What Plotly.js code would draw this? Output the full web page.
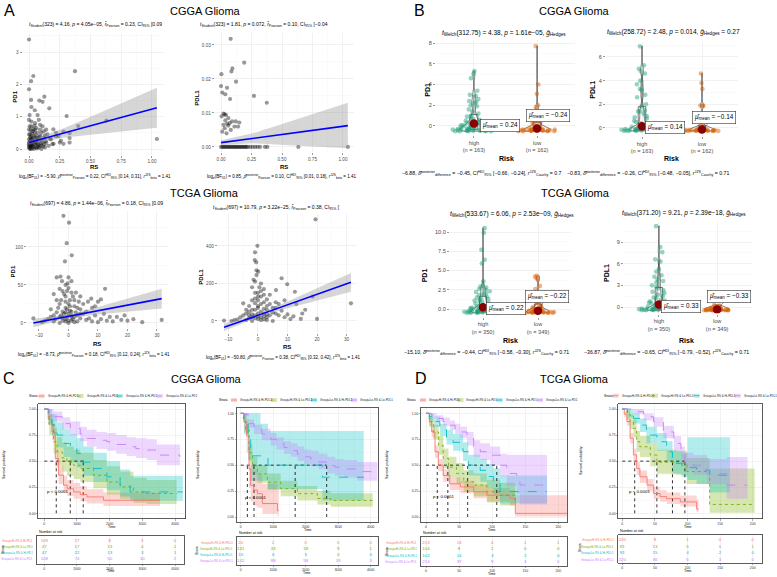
<!DOCTYPE html>
<html>
<head>
<meta charset="utf-8">
<script src="https://cdn.plot.ly/plotly-3.0.1.min.js"></script>
<style>
html,body{margin:0;padding:0;background:#ffffff;overflow:hidden;}
#chart{width:777px;height:577px;}
</style>
</head>
<body>
<div id="chart"></div>
<script>
// ======================= DATA =======================
// ---- Panel A: RS vs expression, points [RS, value] ----
const A1_points = [[0.00,3.39],[0.035,2.26],[0.017,2.10],[0.00,1.85],[0.374,2.41],[0.017,1.52],[0.125,1.62],[0.084,1.50],[0.11,1.46],[0.165,1.26],[0.02,1.30],[0.047,1.20],[0.306,1.02],[0.07,1.05],[0.005,1.05],[0.40,0.71],[1.04,0.31],[0.09,0.75],[0.198,0.61],[0.28,0.54],[0.33,0.49],[0.22,0.39],[0.33,0.34],[0.33,0.20],[0.28,0.16],[0.26,0.26],[0.17,0.32],[0.20,0.16],[0.63,0.88],
 [0,0.05],[0.01,0.10],[0.02,0.00],[0.03,0.20],[0.00,0.30],[0.05,0.15],[0.04,0.40],[0.06,0.05],[0.08,0.25],[0.10,0.10],[0.12,0.35],[0.00,0.60],[0.02,0.70],[0.07,0.50],[0.09,0.60],[0.11,0.70],[0.14,0.20],[0.15,0.45],[0.13,0.05],[0.03,0.55],[0.01,0.45],[0.05,0.80],[0.08,0.90],[0.00,0.90],[0.06,0.35],[0.04,0.00],[0.02,0.30],[0.07,0.15],[0.09,0.40],[0.16,0.10],[0.18,0.30],[0.12,0.55],[0.00,0.15],[0.01,0.25],[0.03,0.05],[0.05,0.60],[0.10,0.00],[0.14,0.60],[0.19,0.15],[0.22,0.50],[0.25,0.20],[0.24,0.40],[0.01,0.0],[0.02,0.12],[0.04,0.22],[0.06,0.18],[0.03,0.35],[0.0,0.45],[0.05,0.3],[0.11,0.2],[0.08,0.05],[0.13,0.42],[0.06,0.65],[0.02,0.85],[0.1,0.5],
 [0.005,0.02],[0.015,0.08],[0.025,0.14],[0.035,0.1],[0.045,0.06],[0.055,0.22],[0.065,0.28],[0.075,0.33],[0.085,0.12],[0.095,0.18],[0.015,0.38],[0.025,0.48],[0.035,0.62],[0.045,0.52],[0.055,0.42],[0.065,0.02],[0.075,0.08],[0.085,0.38],[0.105,0.28],[0.115,0.08],[0.125,0.15],[0.135,0.25],[0.005,0.7],[0.015,0.58],[0.045,0.72],[0.0,0.2],[0.0,0.1],[0.01,0.35],[0.02,0.2],[0.03,0.28]];
const A2_points = [[0.079,0.0318],[0.19,0.0248],[0.093,0.0231],[0.085,0.0222],[0.003,0.0214],[0.123,0.0192],[0.0,0.0179],[0.049,0.0174],[0.01,0.016],[0.035,0.0155],[0.074,0.0141],[0.27,0.015],[0.375,0.013],[0.02,0.0098],[0.03,0.0096],[0.04,0.0094],[0.005,0.009],[0.06,0.0085],[0.09,0.0075],[0.12,0.0075],[0.07,0.007],[0.05,0.0068],[0.02,0.0065],[0.15,0.0072],[0.14,0.006],[0.03,0.0055],[0.08,0.005],[0.01,0.0045],[0.045,0.004],[0.11,0.006],[0.035,0.0078],[0.06,0.0063],
 [0,0],[0.01,0],[0.02,0],[0.03,0],[0.04,0],[0.05,0],[0.06,0],[0.07,0],[0.08,0],[0.09,0],[0.1,0],[0.11,0],[0.12,0],[0.13,0],[0.14,0],[0.15,0],[0.16,0],[0.17,0],[0.18,0],[0.19,0],[0.2,0],[0.21,0],[0.22,0],[0.24,0],[0.26,0],[0.28,0],[0.3,0],[0.32,0],[0.36,0],[0.38,0],[0.634,0],[1.04,0]];
const A3_points = [[-1.7,141],[0.2,132],[-0.6,105],[-1.2,81],[1.1,89],[-4,60],[-2.7,61],[-0.3,52],[-2.2,55],[12.4,45],[-11.9,6],[31.6,4],[16.4,8],[17.9,4],[7.7,32],[6.6,28],[10,28],[3,20],[5,12],[-5,10],[-3,25],[-1,35],[1,40],[2,30],[-2,42],[0,46],[-4,30],[-6,18],[-7,5],[-5,2],[-3,0],[-1,5],[0,0],[1,3],[2,8],[3,2],[4,6],[6,4],[8,2],[9,10],[11,5],[13,3],[14,8],[-2,15],[-1,20],[0,12],[1,15],[2,22],[-3,8],[-4,14],[-2,3],[0,25],[-1,28],[1,8],[3,10],[4,18],[5,25],[6,15],[7,6],[8,20],[-6,8],[-8,3],[-9,1],[10,1],[12,12],[15,2],[20,3],[22,5],[-5,38],[0,60],[1,55],[9,22],[11,31],[4,35],[-1,50],[19,10],[25,1],
 [-2.5,10],[-1.5,12],[-0.5,18],[0.5,22],[1.5,5],[2.5,14],[-3.5,20],[-0.5,8],[0.5,30],[1.5,35],[-1.5,38],[-2.5,30],[3.5,28],[-0.5,42],[0.5,16],[-1,2],[2,1],[-2,7],[4,12],[-4.5,5],[0,3],[1,10],[-1,14],[2.5,40],[-3,45]];
const A4_points = [[19.5,542],[-0.2,401],[-1,366],[-1.1,325],[-0.6,313],[0.1,263],[-0.5,245],[8,228],[9.9,196],[12.5,156],[6.1,165],[18.5,130],[31.5,94],[14.5,11],[20,11],[-11.5,2],[-5,94],[-2,180],[0,150],[1,130],[-1,120],[2,100],[-3,80],[3,60],[4,90],[5,45],[6,70],[7,30],[8,55],[9,20],[10,35],[11,10],[-4,40],[-6,20],[-7,8],[-8,5],[-2,60],[-1,30],[0,10],[1,50],[2,25],[3,5],[-3,15],[0,80],[1,200],[-1,210],[2,170],[4,140],[0,40],[-2,0],[5,0],[12,25],[15,40],[-9,0],[16,60],[13,90],[9,110],[3,115],[6,100],[-5,30],[-1,95],[0,110],[2,65],[-3,50],[1,20],[-2,35],[-4,5],[3,35],
 [-1,60],[0,70],[1,90],[2,40],[-2,110],[0,130],[1,160],[-1,150],[3,80],[4,30],[5,70],[-3,30],[-1,15],[0,25],[2,8],[1,5],[-2,20],[3,20],[6,40],[-4,60],[2,140],[-0.5,270],[0.5,180],[-1.5,220],[7,90]];
// regression lines and 95% bands
const A1_fit_x = [0, 0.26, 0.52, 0.78, 1.04];
const A1_fit_y = [0.2, 0.47, 0.74, 1.01, 1.28];
const A1_ci_lo = [0.13, 0.34, 0.45, 0.55, 0.66];
const A1_ci_hi = [0.27, 0.60, 1.03, 1.47, 1.90];
const A2_fit_x = [0, 0.26, 0.52, 0.78, 1.04];
const A2_fit_y = [0.00127, 0.00252, 0.00377, 0.00502, 0.00627];
const A2_ci_lo = [0.0006, 0.0011, 0.0006, 0.0001, -0.0004];
const A2_ci_hi = [0.0020, 0.0040, 0.0070, 0.0099, 0.0130];
const A3_fit_x = [-11.9, 0, 10, 20, 31.6];
const A3_fit_y = [0, 8.76, 16.1, 23.5, 32];
const A3_ci_lo = [-5.5, 6.3, 11.3, 14.9, 19];
const A3_ci_hi = [5.5, 11.2, 20.9, 32.1, 45];
const A4_fit_x = [-11.5, 0, 10, 20, 31.5];
const A4_fit_y = [-34, 30.2, 86, 141.8, 206];
const A4_ci_lo = [-54, 22.2, 68.2, 109, 156];
const A4_ci_hi = [-14, 38.2, 103.8, 174.6, 256];

// ---- Panel B: expression by risk group ----
const riskGroups = ['high', 'low'];
const B1_high = [5.3,5.0,4.6,3.4,3.0,2.9,2.6,2.4,2.3,2.2,2.0,1.9,1.6,1.4,1.2,1.0,0.9,0.8,0.7,0.6,0.5,0.45,0.4,0.35,0.3,0.25,0.2,0.15,0.1,0.05,0.0,-0.05,-0.1,-0.15,-0.2,-0.25,-0.3,-0.3,-0.35,-0.35,-0.4,-0.4,-0.4,-0.45,-0.45,-0.45,-0.5,-0.5,-0.5,-0.5,-0.3,-0.2,-0.1,0.0,0.1,-0.4,-0.45,-0.5,-0.35,-0.25];
const B1_low = [7.7,4.0,3.1,2.0,1.8,1.5,1.2,0.8,0.6,0.4,0.3,0.2,0.1,0.0,-0.1,-0.15,-0.2,-0.25,-0.3,-0.3,-0.35,-0.35,-0.4,-0.4,-0.4,-0.45,-0.45,-0.45,-0.5,-0.5,-0.5,-0.5,-0.45,-0.4,-0.35,-0.3,-0.48,-0.42,-0.38,-0.33];
const B2_high = [6.9,5.3,5.0,4.8,4.6,4.0,3.7,3.3,3.2,2.8,2.6,2.0,1.8,1.5,1.4,1.4,1.2,1.0,0.9,0.8,0.6,0.5,0.4,0.3,0.2,0.15,0.1,0.05,0.0,-0.05,-0.1,-0.1,-0.15,-0.15,-0.2,-0.2,-0.2,-0.25,-0.25,-0.25,-0.25,-0.22,-0.18,-0.12,-0.08,0.02,-0.24,-0.23,-0.21,-0.19];
const B2_low = [4.6,3.8,3.3,1.9,1.9,1.85,1.0,0.6,0.3,0.1,0.0,-0.05,-0.1,-0.1,-0.15,-0.15,-0.2,-0.2,-0.2,-0.22,-0.22,-0.24,-0.24,-0.25,-0.25,-0.25,-0.25,-0.23,-0.21,-0.18,-0.12,-0.08,-0.24,-0.22,-0.2,-0.17];
const B3_high = [10.5,9.9,7.7,6.4,5.9,3.6,3.0,2.9,2.8,2.6,2.5,2.3,2.2,2.0,1.9,1.8,1.6,1.5,1.4,1.3,1.2,1.1,1.0,0.9,0.8,0.7,0.6,0.5,0.4,0.35,0.3,0.25,0.2,0.15,0.1,0.05,0.0,-0.05,-0.1,-0.15,-0.2,-0.25,-0.3,-0.3,-0.35,-0.35,-0.4,-0.4,-0.4,-0.45,-0.45,-0.45,-0.5,-0.5,-0.5,-0.5,-0.2,-0.1,0.0,0.1,-0.3,-0.4,-0.45,-0.48,-0.35];
const B3_low = [4.3,4.2,4.0,3.8,3.0,2.6,1.8,1.5,1.2,1.0,0.8,0.6,0.4,0.3,0.2,0.1,0.0,-0.05,-0.1,-0.15,-0.2,-0.25,-0.3,-0.3,-0.35,-0.35,-0.4,-0.4,-0.4,-0.45,-0.45,-0.45,-0.5,-0.5,-0.5,-0.5,-0.48,-0.42,-0.38,-0.33,-0.28,-0.22,-0.45,-0.4,-0.47];
const B4_high = [11.2,8.3,7.6,6.6,6.3,5.3,4.9,4.4,4.2,3.8,3.6,3.4,3.0,2.8,2.6,2.3,2.1,1.9,1.7,1.5,1.3,1.2,1.0,0.9,0.8,0.7,0.6,0.5,0.4,0.3,0.2,0.1,0.0,-0.1,-0.15,-0.2,-0.25,-0.3,-0.3,-0.35,-0.35,-0.4,-0.4,-0.4,-0.42,-0.42,-0.45,-0.45,-0.38,-0.32,-0.27,-0.2,-0.1,0.05,-0.44,-0.43];
const B4_low = [0.3,0.2,0.1,0.0,-0.05,-0.1,-0.15,-0.2,-0.2,-0.25,-0.25,-0.3,-0.3,-0.3,-0.35,-0.35,-0.35,-0.4,-0.4,-0.4,-0.4,-0.42,-0.42,-0.42,-0.44,-0.44,-0.44,-0.45,-0.45,-0.45,-0.38,-0.33,-0.28,-0.22,-0.18,-0.12,-0.43,-0.41,-0.39,-0.37];
const B1_means = [0.24, -0.24];
const B2_means = [0.14, -0.14];
const B3_means = [0.22, -0.22];
const B4_means = [0.33, -0.33];
const CGGA_n = [163, 162];
const TCGA_n = [350, 349];

// ---- Panels C/D: Kaplan-Meier (groups: HiHi, HiLo, LoHi, LoLo) ----
const PD1_groups = ['Group=Hi-RS & Hi-PD1', 'Group=Hi-RS & Lo-PD1', 'Group=Lo-RS & Hi-PD1', 'Group=Lo-RS & Lo-PD1'];
const PDL1_groups = ['Group=Hi-RS & Hi-PDL1', 'Group=Hi-RS & Lo-PDL1', 'Group=Lo-RS & Hi-PDL1', 'Group=Lo-RS & Lo-PDL1'];
const CGGA_times = [0, 1000, 2000, 3000, 4000];
const TCGA_times = [0, 50, 100, 150, 200];

const C1_time = [
 [0,120,235,336,437,589,700,895,1100,1303,1810,3540],
 [0,150,285,387,550,692,900,1100,1505,1914,2320,2727,3135,4050],
 [0,120,235,387,589,800,998,1200,1505,1914,2320,2626,4240],
 [0,150,285,550,794,1100,1303,1600,1914,2200,2524,2800,3135,3440,4150]];
const C1_surv = [
 [1,0.9,0.78,0.526,0.365,0.27,0.235,0.205,0.18,0.157,0.125,0.125],
 [1,0.85,0.686,0.59,0.53,0.49,0.46,0.43,0.365,0.30,0.253,0.205,0.19,0.19],
 [1,0.93,0.846,0.75,0.67,0.62,0.574,0.49,0.43,0.35,0.27,0.205,0.205],
 [1,0.96,0.926,0.86,0.814,0.76,0.718,0.70,0.686,0.66,0.638,0.62,0.606,0.558,0.541]];
const C1_lower = [
 [1,0.85,0.70,0.44,0.28,0.2,0.165,0.14,0.115,0.095,0.07,0.07],
 [1,0.75,0.57,0.46,0.40,0.36,0.33,0.30,0.24,0.18,0.14,0.10,0.09,0.09],
 [1,0.86,0.75,0.63,0.54,0.49,0.44,0.36,0.30,0.22,0.16,0.12,0.12],
 [1,0.92,0.88,0.8,0.75,0.69,0.64,0.62,0.6,0.57,0.55,0.53,0.51,0.46,0.44]];
const C1_upper = [
 [1,0.95,0.86,0.62,0.46,0.36,0.32,0.29,0.26,0.23,0.2,0.2],
 [1,0.95,0.82,0.73,0.68,0.64,0.61,0.58,0.51,0.45,0.40,0.34,0.32,0.32],
 [1,1,0.95,0.87,0.80,0.76,0.72,0.64,0.58,0.50,0.42,0.36,0.36],
 [1,1,0.975,0.92,0.88,0.83,0.80,0.78,0.77,0.75,0.73,0.72,0.71,0.66,0.64]];
const C1_medians = [366, 794, 1191];
const C1_risk = [[109,17,8,3,0],[47,17,13,4,1],[47,22,13,3,1],[108,74,50,30,2]];

const C2_time = [
 [0,100,185,256,308,400,513,667,1130,1170],
 [0,80,154,256,360,513,820,1230,1745,2360,2770,4060],
 [0,100,225,308,610,840,2513,3785],
 [0,100,250,410,650,923,1100,1332,1550,1745,1950,2154,2400,2667,2900,3180,3590,4205]];
const C2_surv = [
 [1,0.92,0.78,0.465,0.305,0.26,0.225,0.13,0.06,0.06],
 [1,0.95,0.85,0.62,0.495,0.416,0.336,0.273,0.225,0.178,0.16,0.16],
 [1,0.93,0.78,0.59,0.59,0.5,0.384,0.384],
 [1,0.99,0.9,0.845,0.8,0.75,0.71,0.67,0.64,0.606,0.58,0.56,0.53,0.495,0.48,0.463,0.438,0.438]];
const C2_lower = [
 [1,0.82,0.62,0.28,0.15,0.11,0.09,0.03,0.005,0.005],
 [1,0.91,0.79,0.54,0.41,0.33,0.26,0.2,0.16,0.12,0.1,0.1],
 [1,0.8,0.55,0.35,0.35,0.27,0.16,0.16],
 [1,0.97,0.86,0.8,0.74,0.69,0.65,0.61,0.58,0.54,0.51,0.49,0.46,0.42,0.4,0.38,0.35,0.35]];
const C2_upper = [
 [1,1,0.95,0.66,0.5,0.45,0.41,0.32,0.26,0.26],
 [1,0.99,0.9,0.7,0.58,0.5,0.42,0.35,0.3,0.25,0.23,0.23],
 [1,1,1,1,0.9,0.83,0.83,0.83],
 [1,1,0.94,0.89,0.85,0.81,0.77,0.73,0.71,0.68,0.65,0.64,0.61,0.58,0.56,0.55,0.53,0.53]];
const C2_medians = [205, 410, 1676, 2645];
const C2_risk = [[20,2,0,0,0],[131,33,18,9,1],[15,6,5,0,0],[142,88,58,33,3]];

const D1_time = [
 [0,5,8.6,13.6,18.6,26,36,52,72,92,127,135,213],
 [0,5,11,19,26,34,46,57,72,92,112,135],
 [0,5,11,21,31,41,56,64,82,92,102,112,183],
 [0,8,16,26,36,44,52,62,72,82,97,112,122,137,142,183]];
const D1_surv = [
 [1,0.92,0.82,0.63,0.5,0.40,0.32,0.29,0.243,0.21,0.18,0.035,0.035],
 [1,0.92,0.82,0.69,0.565,0.48,0.42,0.34,0.308,0.243,0.21,0.147],
 [1,0.97,0.92,0.84,0.77,0.72,0.63,0.5,0.45,0.39,0.34,0.245,0.245],
 [1,0.98,0.95,0.92,0.885,0.85,0.82,0.757,0.66,0.63,0.596,0.5,0.42,0.356,0.308,0.308]];
const D1_lower = [
 [1,0.88,0.77,0.57,0.44,0.34,0.26,0.23,0.18,0.15,0.11,0.005,0.005],
 [1,0.87,0.75,0.6,0.47,0.38,0.32,0.24,0.2,0.14,0.11,0.04],
 [1,0.93,0.87,0.78,0.7,0.64,0.54,0.4,0.34,0.28,0.22,0.13,0.13],
 [1,0.96,0.92,0.88,0.84,0.8,0.76,0.69,0.58,0.55,0.5,0.39,0.3,0.22,0.12,0.12]];
const D1_upper = [
 [1,0.96,0.87,0.69,0.56,0.46,0.38,0.35,0.31,0.28,0.26,0.21,0.21],
 [1,0.97,0.89,0.78,0.66,0.58,0.52,0.45,0.42,0.36,0.33,0.3],
 [1,1,0.97,0.9,0.84,0.8,0.72,0.6,0.56,0.51,0.47,0.4,0.4],
 [1,1,0.98,0.96,0.93,0.9,0.87,0.82,0.74,0.71,0.68,0.61,0.6,0.6,0.6,0.6]];
const D1_medians = [17, 33, 63, 107];
const D1_risk = [[213,13,4,1,1],[104,8,2,0,0],[102,14,3,2,0],[214,37,9,3,0]];

const D2_time = [
 [0,3,7,12,17,22,27,38,48,58,68,89,114,117],
 [0,7,12,17,22,27,43,53,83,99,134,203],
 [0,8,17,27,37,53,68,77,91,100,114,134,165],
 [0,17,33,48,63,79,90,96,109,130,160,192]];
const D2_surv = [
 [1,0.95,0.88,0.72,0.56,0.43,0.35,0.27,0.19,0.16,0.14,0.109,0.04,0.04],
 [1,0.95,0.88,0.815,0.686,0.638,0.558,0.49,0.48,0.40,0.085,0.085],
 [1,0.96,0.91,0.846,0.75,0.686,0.59,0.48,0.46,0.44,0.413,0.365,0.365],
 [1,0.974,0.926,0.88,0.78,0.67,0.56,0.49,0.46,0.38,0.27,0.27]];
const D2_lower = [
 [1,0.92,0.84,0.67,0.5,0.37,0.29,0.21,0.14,0.11,0.09,0.065,0.01,0.01],
 [1,0.9,0.81,0.73,0.59,0.54,0.45,0.38,0.37,0.28,0.005,0.005],
 [1,0.92,0.86,0.78,0.67,0.6,0.5,0.38,0.35,0.32,0.28,0.2,0.2],
 [1,0.95,0.89,0.83,0.72,0.6,0.48,0.41,0.37,0.28,0.14,0.14]];
const D2_upper = [
 [1,0.98,0.92,0.77,0.62,0.49,0.41,0.33,0.25,0.22,0.2,0.17,0.13,0.13],
 [1,0.99,0.95,0.9,0.79,0.74,0.67,0.61,0.6,0.53,0.43,0.43],
 [1,1,0.96,0.91,0.83,0.77,0.69,0.6,0.58,0.73,0.73,0.73,0.73],
 [1,1,0.96,0.92,0.84,0.74,0.64,0.58,0.56,0.52,0.54,0.54]];
const D2_medians = [19, 53, 77, 96];
const D2_risk = [[220,9,1,0,0],[91,13,5,1,1],[91,15,4,2,0],[220,36,6,3,0]];

// ---- texts ----
const A1_sub = '<i>t</i><sub>Student</sub>(323) = 4.16, <i>p</i> = 4.05e\u221205, <i>r\u0302</i><sub>Pearson</sub> = 0.23, CI<sub>95%</sub> [0.09';
const A2_sub = '<i>t</i><sub>Student</sub>(323) = 1.81, <i>p</i> = 0.072, <i>r\u0302</i><sub>Pearson</sub> = 0.10, CI<sub>95%</sub> [\u22120.04';
const A3_sub = '<i>t</i><sub>Student</sub>(697) = 4.86, <i>p</i> = 1.44e\u221206, <i>r\u0302</i><sub>Pearson</sub> = 0.18, CI<sub>95%</sub> [0.09';
const A4_sub = '<i>t</i><sub>Student</sub>(697) = 10.79, <i>p</i> = 3.22e\u221225, <i>r\u0302</i><sub>Pearson</sub> = 0.38, CI<sub>95%</sub> [';
const A1_cap = 'log<sub>e</sub>(BF<sub>01</sub>) = \u22125.90, <i>\u03c1\u0302</i><sup>posterior</sup><sub>Pearson</sub> = 0.22, CI<sup>HDI</sup><sub>95%</sub> [0.14, 0.31], <i>r</i><sup>JZS</sup><sub>beta</sub> = 1.41';
const A2_cap = 'log<sub>e</sub>(BF<sub>01</sub>) = 0.85, <i>\u03c1\u0302</i><sup>posterior</sup><sub>Pearson</sub> = 0.10, CI<sup>HDI</sup><sub>95%</sub> [0.01, 0.18], <i>r</i><sup>JZS</sup><sub>beta</sub> = 1.41';
const A3_cap = 'log<sub>e</sub>(BF<sub>01</sub>) = \u22128.73, <i>\u03c1\u0302</i><sup>posterior</sup><sub>Pearson</sub> = 0.18, CI<sup>HDI</sup><sub>95%</sub> [0.12, 0.24], <i>r</i><sup>JZS</sup><sub>beta</sub> = 1.41';
const A4_cap = 'log<sub>e</sub>(BF<sub>01</sub>) = \u221250.80, <i>\u03c1\u0302</i><sup>posterior</sup><sub>Pearson</sub> = 0.38, CI<sup>HDI</sup><sub>95%</sub> [0.32, 0.42], <i>r</i><sup>JZS</sup><sub>beta</sub> = 1.41';
const B1_sub = '<i>t</i><sub>Welch</sub>(312.75) = 4.38, <i>p</i> = 1.61e\u221205, <i>g\u0302</i><sub>Hedges</sub>';
const B2_sub = '<i>t</i><sub>Welch</sub>(258.72) = 2.48, <i>p</i> = 0.014, <i>g\u0302</i><sub>Hedges</sub> = 0.27';
const B3_sub = '<i>t</i><sub>Welch</sub>(533.67) = 6.06, <i>p</i> = 2.53e\u221209, <i>g\u0302</i><sub>Hedges</sub>';
const B4_sub = '<i>t</i><sub>Welch</sub>(371.20) = 9.21, <i>p</i> = 2.39e\u221218, <i>g\u0302</i><sub>Hedges</sub>';
const B1_cap = '\u22126.88, <i>\u03b4\u0302</i><sup>posterior</sup><sub>difference</sub> = \u22120.45, CI<sup>HDI</sup><sub>95%</sub> [\u22120.66, \u22120.24], <i>r</i><sup>JZS</sup><sub>Cauchy</sub> = 0.7';
const B2_cap = '\u22120.83, <i>\u03b4\u0302</i><sup>posterior</sup><sub>difference</sub> = \u22120.26, CI<sup>HDI</sup><sub>95%</sub> [\u22120.48, \u22120.05], <i>r</i><sup>JZS</sup><sub>Cauchy</sub> = 0.71';
const B3_cap = '\u221215.10, <i>\u03b4\u0302</i><sup>posterior</sup><sub>difference</sub> = \u22120.44, CI<sup>HDI</sup><sub>95%</sub> [\u22120.58, \u22120.30], <i>r</i><sup>JZS</sup><sub>Cauchy</sub> = 0.71';
const B4_cap = '\u221236.87, <i>\u03b4\u0302</i><sup>posterior</sup><sub>difference</sub> = \u22120.65, CI<sup>HDI</sup><sub>95%</sub> [\u22120.79, \u22120.52], <i>r</i><sup>JZS</sup><sub>Cauchy</sub> = 0.71';

// ======================= BUILD =======================
const W = 777, H = 577;
const FONT = '"Liberation Sans", Arial, Helvetica, sans-serif';
const px = v => v / W;
const py = v => 1 - v / H;
const traces = [], shapes = [], annotations = [];
const layout = {
  width: W, height: H, margin: {l: 0, r: 0, t: 0, b: 0, pad: 0},
  paper_bgcolor: '#ffffff', plot_bgcolor: '#ffffff', showlegend: false,
  font: {family: FONT, size: 6, color: '#000'}
};
let axN = 0;
function addAxes(xc, yc) {
  axN++;
  const xa = axN === 1 ? 'xaxis' : 'xaxis' + axN;
  const ya = axN === 1 ? 'yaxis' : 'yaxis' + axN;
  const xr = axN === 1 ? 'x' : 'x' + axN;
  const yr = axN === 1 ? 'y' : 'y' + axN;
  layout[xa] = Object.assign({anchor: yr, automargin: false, fixedrange: true, zeroline: false}, xc);
  layout[ya] = Object.assign({anchor: xr, automargin: false, fixedrange: true, zeroline: false}, yc);
  return {x: xr, y: yr};
}
function txt(t, x, y, size, o) {
  o = o || {};
  annotations.push({text: t, x: px(x), y: py(y), xref: 'paper', yref: 'paper', showarrow: false,
    xanchor: o.xa || 'center', yanchor: o.ya || 'middle', textangle: o.angle || 0,
    font: {family: FONT, size: size, color: o.color || '#000'}});
}
const grey = '#4D4D4D';
function ggAxis(dom, range, dtick, fmt, tsize) {
  return {domain: dom, range: range, dtick: dtick, tick0: 0, tickformat: fmt,
    showgrid: true, gridcolor: '#E3E3E3', gridwidth: 0.5, showline: false,
    ticks: 'outside', ticklen: 2, tickwidth: 0.5, tickcolor: '#333',
    tickfont: {family: FONT, size: tsize, color: grey},
    minor: {showgrid: true, gridcolor: '#F2F2F2', gridwidth: 0.4, dtick: dtick / 2, tick0: 0}};
}

// ---------- Panel A ----------
const scatterCfg = [
  {pts: A1_points, fx: A1_fit_x, fy: A1_fit_y, lo: A1_ci_lo, hi: A1_ci_hi, box: [22.6, 163.3, 34, 154.5], xr: [-0.052, 1.092], yr: [-0.17, 3.56], xd: 0.25, xf: '.2f', yd: 1, yf: 'd',
   sub: A1_sub, subPos: [26.7, 25], cap: A1_cap, capPos: [95, 176.7], xl: ['RS', 94.3, 167], yl: ['PD1', 15, 96.7]},
  {pts: A2_points, fx: A2_fit_x, fy: A2_fit_y, lo: A2_ci_lo, hi: A2_ci_hi, box: [214.7, 354.2, 33.4, 152.4], xr: [-0.052, 1.092], yr: [-0.0016, 0.0334], xd: 0.25, xf: '.2f', yd: 0.01, yf: '.2f',
   sub: A2_sub, subPos: [198.3, 25], cap: A2_cap, capPos: [281.7, 176.7], xl: ['RS', 284, 167], yl: ['PDL1', 196.7, 98]},
  {pts: A3_points, fx: A3_fit_x, fy: A3_fit_y, lo: A3_ci_lo, hi: A3_ci_hi, box: [26.9, 168.2, 210.5, 328.3], xr: [-14.1, 33.8], yr: [-7, 148], xd: 10, xf: 'd', yd: 50, yf: 'd',
   sub: A3_sub, subPos: [28.3, 203.3], cap: A3_cap, capPos: [93.7, 354], xl: ['RS', 96.7, 344], yl: ['PD1', 12.7, 271.7]},
  {pts: A4_points, fx: A4_fit_x, fy: A4_fit_y, lo: A4_ci_lo, hi: A4_ci_hi, box: [217.7, 357.3, 213.9, 332.8], xr: [-13.65, 33.65], yr: [-63, 571], xd: 10, xf: 'd', yd: 200, yf: 'd',
   sub: A4_sub, subPos: [211, 207.3], cap: A4_cap, capPos: [283.3, 357], xl: ['RS', 287.3, 346.7], yl: ['PDL1', 201, 276.7]}
];
scatterCfg.forEach(c => {
  const a = addAxes(ggAxis([px(c.box[0]), px(c.box[1])], c.xr, c.xd, c.xf, 4.6),
                    ggAxis([py(c.box[3]), py(c.box[2])], c.yr, c.yd, c.yf, 4.6));
  traces.push({type: 'scatter', mode: 'markers', x: c.pts.map(p => p[0]), y: c.pts.map(p => p[1]), xaxis: a.x, yaxis: a.y,
    marker: {color: 'rgba(0,0,0,0.4)', size: 4.2, line: {width: 0}}, hoverinfo: 'skip'});
  traces.push({type: 'scatter', mode: 'lines', x: c.fx, y: c.lo, xaxis: a.x, yaxis: a.y, line: {width: 0, color: 'rgba(0,0,0,0)'}, hoverinfo: 'skip'});
  traces.push({type: 'scatter', mode: 'lines', x: c.fx, y: c.hi, xaxis: a.x, yaxis: a.y, fill: 'tonexty', fillcolor: 'rgba(153,153,153,0.4)', line: {width: 0, color: 'rgba(0,0,0,0)'}, hoverinfo: 'skip'});
  traces.push({type: 'scatter', mode: 'lines', x: c.fx, y: c.fy, xaxis: a.x, yaxis: a.y, line: {color: '#0000FF', width: 1.6}, hoverinfo: 'skip'});
  txt(c.sub, c.subPos[0], c.subPos[1], 5, {xa: 'left'});
  txt(c.cap, c.capPos[0], c.capPos[1], 4.5);
  txt('<b>' + c.xl[0] + '</b>', c.xl[1], c.xl[2], 6);
  txt('<b>' + c.yl[0] + '</b>', c.yl[1], c.yl[2], 6, {angle: -90});
});

// ---------- Panel B ----------
const violinCfg = [
  {hi: B1_high, lo: B1_low, means: B1_means, n: CGGA_n, box: [436, 575, 40, 135], yr: [-0.87, 8.29], yd: 2, yf: 'd', bw: 0.25,
   sub: B1_sub, subPos: [440, 33], cap: B1_cap, capPos: [482, 173], xl: [506.7, 158], yl: ['PD1', 426.7, 90], lab: [[26, 2.5], [10.5, -12.5]]},
  {hi: B2_high, lo: B2_low, means: B2_means, n: CGGA_n, box: [606, 738, 41.6, 136], yr: [-0.68, 7.30], yd: 2, yf: 'd', bw: 0.22,
   sub: B2_sub, subPos: [605, 32], cap: B2_cap, capPos: [647.5, 173], xl: [671.7, 158], yl: ['PDL1', 591.7, 90], lab: [[23, 1.7], [12, -12]]},
  {hi: B3_high, lo: B3_low, means: B3_means, n: TCGA_n, box: [450, 571, 225, 316.7], yr: [-1.0, 10.91], yd: 2.5, yf: '.1f', bw: 0.3,
   sub: B3_sub, subPos: [448.3, 214.3], cap: B3_cap, capPos: [486, 352], xl: [510, 340], yl: ['PD1', 424.3, 275], lab: [[23, 1], [9, -14]]},
  {hi: B4_high, lo: B4_low, means: B4_means, n: TCGA_n, box: [624, 752, 221.8, 313.5], yr: [-0.9, 11.8], yd: 3, yf: 'd', bw: 0.3,
   sub: B4_sub, subPos: [620, 212.7], cap: B4_cap, capPos: [666, 352], xl: [686.7, 340], yl: ['PDL1', 606.7, 273.3], lab: [[22, 1.5], [12, -13]]}
];
const violinCols = ['rgba(27,158,119,0.45)', 'rgba(217,95,2,0.45)'];
violinCfg.forEach(c => {
  const xa = ggAxis([px(c.box[0]), px(c.box[1])], [-0.6, 1.6], 1, 'd', 5.6);
  xa.tickmode = 'array'; xa.tickvals = [0, 1];
  xa.ticktext = riskGroups.map((g, i) => g + '<br>(n = ' + c.n[i] + ')');
  delete xa.minor; delete xa.dtick; delete xa.tick0;
  const a = addAxes(xa, ggAxis([py(c.box[3]), py(c.box[2])], c.yr, c.yd, c.yf, 5.6));
  [c.hi, c.lo].forEach((vals, i) => {
    traces.push({type: 'box', y: vals, x0: i, xaxis: a.x, yaxis: a.y, width: 0.7,
      boxpoints: 'all', jitter: 1, pointpos: 0,
      marker: {color: violinCols[i], size: 4.6, line: {width: 0}},
      line: {color: 'rgba(0,0,0,0)', width: 0}, fillcolor: 'rgba(0,0,0,0)', hoverinfo: 'skip'});
    traces.push({type: 'violin', y: vals, x0: i, xaxis: a.x, yaxis: a.y, width: 0.42, spanmode: 'hard',
      bandwidth: c.bw, points: false, scalemode: 'width',
      line: {color: '#222', width: 0.6}, fillcolor: 'rgba(255,255,255,0.15)',
      box: {visible: true, width: 0.3, fillcolor: 'rgba(255,255,255,0)', line: {color: '#222', width: 0.6}},
      meanline: {visible: false}, hoverinfo: 'skip'});
  });
  traces.push({type: 'scatter', mode: 'markers', x: [0, 1], y: c.means, xaxis: a.x, yaxis: a.y,
    marker: {color: '#8B0000', size: 8.5, line: {width: 0}}, hoverinfo: 'skip'});
  c.means.forEach((m, i) => {
    annotations.push({xref: a.x, yref: a.y, x: i, y: m, ax: c.lab[i][0], ay: c.lab[i][1],
      text: '<i>\u03bc\u0302</i><sub>mean</sub> = ' + (m < 0 ? '\u2212' + Math.abs(m).toFixed(2) : m.toFixed(2)),
      showarrow: true, arrowhead: 0, arrowwidth: 0.5, arrowcolor: '#333', standoff: 0,
      bgcolor: '#ffffff', bordercolor: '#333', borderwidth: 0.6, borderpad: 1.5,
      font: {family: FONT, size: 6.4, color: '#000'}});
  });
  txt(c.sub, c.subPos[0], c.subPos[1], 6.5, {xa: 'left'});
  txt(c.cap, c.capPos[0], c.capPos[1], 5.2);
  txt('<b>Risk</b>', c.xl[0], c.xl[1], 7);
  txt('<b>' + c.yl[0] + '</b>', c.yl[1], c.yl[2], 7, {angle: -90});
});

// ---------- Panels C / D ----------
const kmCols = ['#F8766D', '#7CAE00', '#00BFC4', '#C77CFF'];
const kmFill = ['rgba(248,118,109,0.3)', 'rgba(124,174,0,0.3)', 'rgba(0,191,196,0.3)', 'rgba(199,124,255,0.3)'];
const kmDash = ['solid', 'dot', 'dash', 'dash'];
const kmCfg = [
  {T: C1_time, S: C1_surv, L: C1_lower, U: C1_upper, med: C1_medians, risk: C1_risk, times: CGGA_times, names: PD1_groups, xd: 1000,
   frame: [38.3, 185, 403.8, 518.5], xmap: [44.3, 0.03268], ymap: [513.3, 104.3], pv: [400, 0.21],
   tbl: [37, 184, 536, 564], rows: [540.5, 546.5, 552.5, 558.5],
   leg: {y: 396, strata: 27, sw: [41.5, 80.5, 119.5, 159.5]}, ylab: [4, 465], tlab: [111.5, 526.5], ttlab: [111, 571], strataLab: [3, 550]},
  {T: C2_time, S: C2_surv, L: C2_lower, U: C2_upper, med: C2_medians, risk: C2_risk, times: CGGA_times, names: PDL1_groups, xd: 1000,
   frame: [236.7, 378.3, 407.8, 522.2], xmap: [240.7, 0.0325], ymap: [517, 103.7], pv: [460, 0.19],
   tbl: [236.7, 378.3, 537.3, 565], rows: [543.3, 549, 555, 560.7],
   leg: {y: 400, strata: 217, sw: [234, 274, 314, 354]}, ylab: [198, 465], tlab: [307.5, 530.2], ttlab: [307, 572.5], strataLab: [197, 551]},
  {T: D1_time, S: D1_surv, L: D1_lower, U: D1_upper, med: D1_medians, risk: D1_risk, times: TCGA_times, names: PD1_groups, xd: 50,
   frame: [421, 567, 407.8, 522.2], xmap: [426, 0.6615], ymap: [517, 103.7], pv: [26, 0.2],
   tbl: [421, 567, 537.3, 566], rows: [542.5, 549, 555.5, 562],
   leg: {y: 400, strata: 405, sw: [423, 460.5, 499.5, 540]}, ylab: [387, 465], tlab: [492, 530.2], ttlab: [492, 574], strataLab: [387, 552]},
  {T: D2_time, S: D2_surv, L: D2_lower, U: D2_upper, med: D2_medians, risk: D2_risk, times: TCGA_times, names: PDL1_groups, xd: 50,
   frame: [618.3, 761.7, 403.8, 518.5], xmap: [622.3, 0.652], ymap: [513.3, 104.3], pv: [27, 0.21],
   tbl: [618.3, 761.7, 535, 562.7], rows: [540, 546.7, 553.3, 560],
   leg: {y: 395.7, strata: 601.7, sw: [615.5, 655, 696.5, 737.5]}, ylab: [581, 461], tlab: [688, 526.5], ttlab: [688, 571], strataLab: [580, 548]}
];
function kmAxis(dom, range, dtick, fmt, extra) {
  return Object.assign({domain: dom, range: range, dtick: dtick, tick0: 0, tickformat: fmt,
    showgrid: true, gridcolor: '#E6E6E6', gridwidth: 0.5,
    minor: {showgrid: true, gridcolor: '#F3F3F3', gridwidth: 0.4, dtick: dtick / 2, tick0: 0},
    showline: true, mirror: true, linecolor: '#333', linewidth: 0.8,
    ticks: 'outside', ticklen: 1.2, tickwidth: 0.4, tickcolor: '#333',
    tickfont: {family: FONT, size: 3.4, color: '#333'}}, extra || {});
}
kmCfg.forEach(c => {
  const f = c.frame;
  const xr = [(f[0] - c.xmap[0]) / c.xmap[1], (f[1] - c.xmap[0]) / c.xmap[1]];
  const yr = [(c.ymap[0] - f[3]) / c.ymap[1], (c.ymap[0] - f[2]) / c.ymap[1]];
  const a = addAxes(kmAxis([px(f[0]), px(f[1])], xr, c.xd, 'd'), kmAxis([py(f[3]), py(f[2])], yr, 0.25, '.2f'));
  for (let g = 0; g < 4; g++) {
    traces.push({type: 'scatter', mode: 'lines', x: c.T[g], y: c.L[g], xaxis: a.x, yaxis: a.y, line: {width: 0, shape: 'hv', color: 'rgba(0,0,0,0)'}, hoverinfo: 'skip'});
    traces.push({type: 'scatter', mode: 'lines', x: c.T[g], y: c.U[g], xaxis: a.x, yaxis: a.y, fill: 'tonexty', fillcolor: kmFill[g], line: {width: 0, shape: 'hv', color: 'rgba(0,0,0,0)'}, hoverinfo: 'skip'});
  }
  const mx = [], my = [];
  const mMax = Math.max.apply(null, c.med);
  mx.push(0, mMax, null); my.push(0.5, 0.5, null);
  c.med.forEach(m => { mx.push(m, m, null); my.push(0, 0.5, null); });
  traces.push({type: 'scatter', mode: 'lines', x: mx, y: my, xaxis: a.x, yaxis: a.y, line: {color: '#000', width: 0.8, dash: 'dot'}, hoverinfo: 'skip'});
  for (let g = 0; g < 4; g++) {
    traces.push({type: 'scatter', mode: 'lines', x: c.T[g], y: c.S[g], xaxis: a.x, yaxis: a.y, line: {color: kmCols[g], width: 0.9, shape: 'hv', dash: kmDash[g]}, hoverinfo: 'skip'});
  }
  annotations.push({xref: a.x, yref: a.y, x: c.pv[0], y: c.pv[1], text: 'p < 0.0001', showarrow: false, xanchor: 'center', yanchor: 'middle', font: {family: FONT, size: 4.4, color: '#000'}});
  txt('Survival probability', c.ylab[0], c.ylab[1], 3.4, {angle: -90});
  txt('Time', c.tlab[0], c.tlab[1], 3.4);
  txt('Strata', c.leg.strata, c.leg.y, 3.2, {xa: 'left'});
  c.leg.sw.forEach((cx, g) => {
    shapes.push({type: 'rect', xref: 'paper', yref: 'paper', x0: px(cx - 3), x1: px(cx + 3), y0: py(c.leg.y + 2), y1: py(c.leg.y - 2), fillcolor: kmFill[g], line: {width: 0}});
    shapes.push({type: 'line', xref: 'paper', yref: 'paper', x0: px(cx - 3), x1: px(cx + 3), y0: py(c.leg.y), y1: py(c.leg.y), line: {color: kmCols[g], width: 0.8, dash: kmDash[g]}});
    txt(c.names[g], cx + 4, c.leg.y, 2.9, {xa: 'left', color: '#222'});
  });
  const t = c.tbl, r = c.rows;
  const sp = (r[3] - r[0]) / 3;
  const yTop = 1 - (r[0] - t[2]) / sp, yBot = 1 + (t[3] - r[0]) / sp;
  const txr = [(t[0] - c.xmap[0]) / c.xmap[1], (t[1] - c.xmap[0]) / c.xmap[1]];
  const b = addAxes(kmAxis([px(t[0]), px(t[1])], txr, c.xd, 'd', {minor: {showgrid: false}}),
    {domain: [py(t[3]), py(t[2])], range: [yBot, yTop], showticklabels: false, showgrid: false, ticks: '',
     showline: true, mirror: true, linecolor: '#333', linewidth: 0.8});
  for (let g = 0; g < 4; g++) {
    traces.push({type: 'scatter', mode: 'text', x: c.times, y: c.times.map(() => g + 1), text: c.risk[g].map(String),
      xaxis: b.x, yaxis: b.y, textposition: 'middle center', textfont: {family: FONT, size: 4.4, color: kmCols[g]}, hoverinfo: 'skip', cliponaxis: false});
    txt(c.names[g], t[0] - 2, r[g], 2.9, {xa: 'right', color: kmCols[g]});
  }
  txt('Number at risk', t[0], t[2] - 4, 3.6, {xa: 'left'});
  txt('Time', c.ttlab[0], c.ttlab[1], 3.4);
  txt('Strata', c.strataLab[0], c.strataLab[1], 3.2, {angle: -90});
});

// ---------- titles ----------
txt('A', 9.2, 10.8, 16);
txt('B', 419, 11, 16);
txt('C', 9.2, 378, 16);
txt('D', 421, 378, 16);
txt('CGGA Glioma', 205.8, 11, 11);
txt('CGGA Glioma', 574, 11, 11);
txt('TCGA Glioma', 204.7, 193.3, 11);
txt('TCGA Glioma', 575, 193, 11);
txt('CGGA Glioma', 206, 379, 11);
txt('TCGA Glioma', 574.7, 379, 11);

layout.annotations = annotations;
layout.shapes = shapes;
Plotly.newPlot('chart', traces, layout, {staticPlot: true, displayModeBar: false});
</script>
</body>
</html>
